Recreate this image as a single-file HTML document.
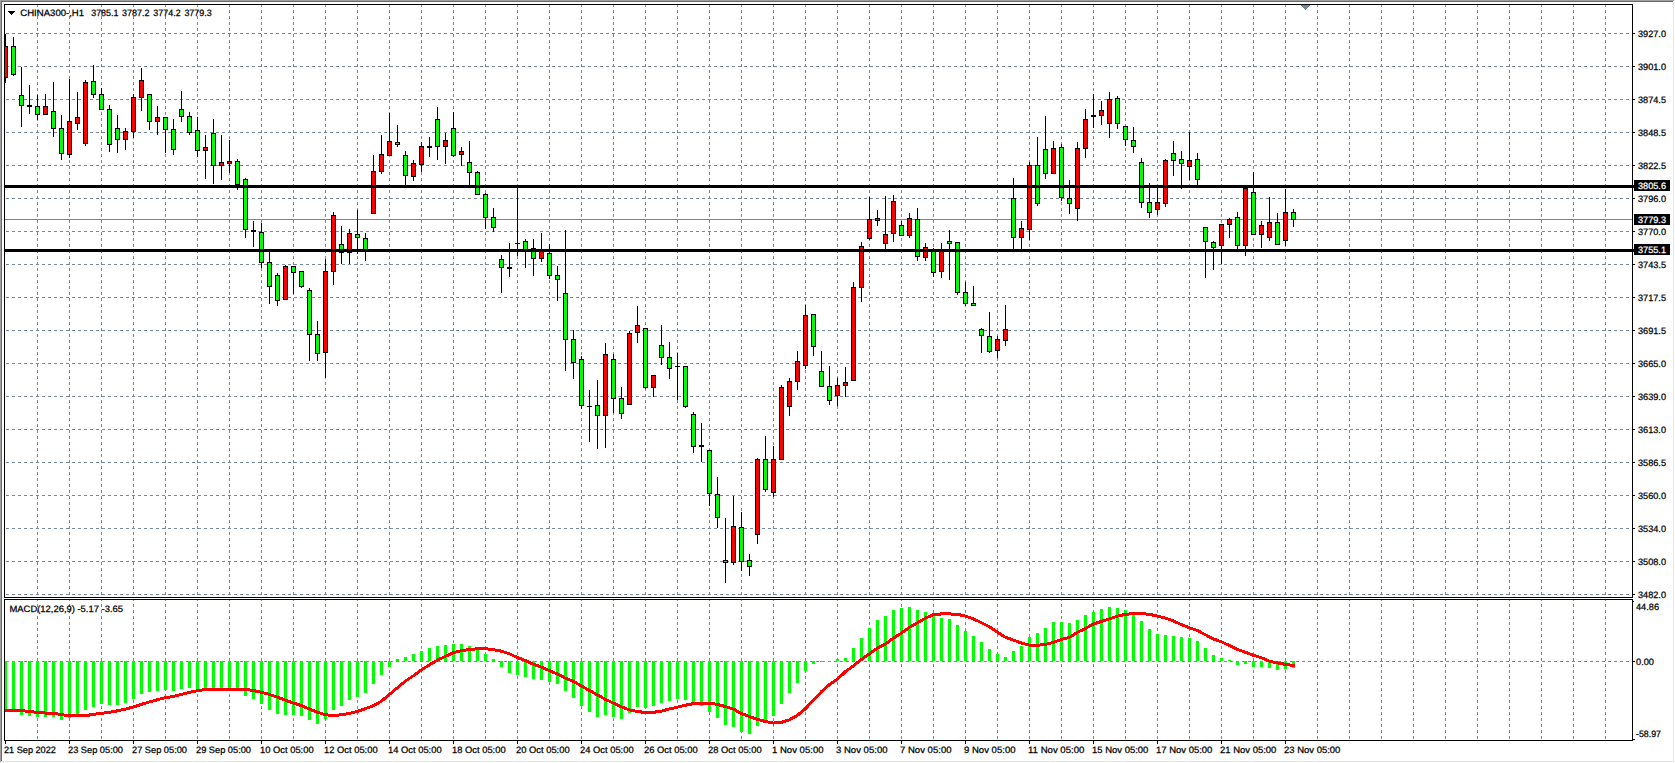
<!DOCTYPE html>
<html lang="en"><head><meta charset="utf-8"><title>CHINA300-,H1</title>
<style>html,body{margin:0;padding:0;background:#fff;overflow:hidden}svg{display:block}text{font-family:"Liberation Sans",sans-serif;font-size:9.2px;fill:#000;stroke:#000;stroke-width:0.25px}.w{fill:#fff;stroke:#fff}</style></head><body>
<svg width="1675" height="763" viewBox="0 0 1675 763" shape-rendering="crispEdges">
<rect x="0" y="0" width="1675" height="763" fill="#fff"/>
<rect x="0" y="0" width="1674" height="1" fill="#a0a0a0"/>
<rect x="0" y="1" width="1673" height="1" fill="#696969"/>
<rect x="0" y="0" width="1" height="762" fill="#a0a0a0"/>
<rect x="1" y="1" width="1" height="760" fill="#696969"/>
<rect x="1673" y="2" width="1" height="760" fill="#e3e3e3"/>
<rect x="2" y="761" width="1672" height="1" fill="#e3e3e3"/>
<g stroke="#778899" stroke-width="1" stroke-dasharray="3 3" fill="none">
<line x1="37.5" y1="4" x2="37.5" y2="740"/>
<line x1="69.5" y1="4" x2="69.5" y2="740"/>
<line x1="101.5" y1="4" x2="101.5" y2="740"/>
<line x1="133.5" y1="4" x2="133.5" y2="740"/>
<line x1="165.5" y1="4" x2="165.5" y2="740"/>
<line x1="197.5" y1="4" x2="197.5" y2="740"/>
<line x1="229.5" y1="4" x2="229.5" y2="740"/>
<line x1="261.5" y1="4" x2="261.5" y2="740"/>
<line x1="293.5" y1="4" x2="293.5" y2="740"/>
<line x1="325.5" y1="4" x2="325.5" y2="740"/>
<line x1="357.5" y1="4" x2="357.5" y2="740"/>
<line x1="389.5" y1="4" x2="389.5" y2="740"/>
<line x1="421.5" y1="4" x2="421.5" y2="740"/>
<line x1="453.5" y1="4" x2="453.5" y2="740"/>
<line x1="485.5" y1="4" x2="485.5" y2="740"/>
<line x1="517.5" y1="4" x2="517.5" y2="740"/>
<line x1="549.5" y1="4" x2="549.5" y2="740"/>
<line x1="581.5" y1="4" x2="581.5" y2="740"/>
<line x1="613.5" y1="4" x2="613.5" y2="740"/>
<line x1="645.5" y1="4" x2="645.5" y2="740"/>
<line x1="677.5" y1="4" x2="677.5" y2="740"/>
<line x1="709.5" y1="4" x2="709.5" y2="740"/>
<line x1="741.5" y1="4" x2="741.5" y2="740"/>
<line x1="773.5" y1="4" x2="773.5" y2="740"/>
<line x1="805.5" y1="4" x2="805.5" y2="740"/>
<line x1="837.5" y1="4" x2="837.5" y2="740"/>
<line x1="869.5" y1="4" x2="869.5" y2="740"/>
<line x1="901.5" y1="4" x2="901.5" y2="740"/>
<line x1="933.5" y1="4" x2="933.5" y2="740"/>
<line x1="965.5" y1="4" x2="965.5" y2="740"/>
<line x1="997.5" y1="4" x2="997.5" y2="740"/>
<line x1="1029.5" y1="4" x2="1029.5" y2="740"/>
<line x1="1061.5" y1="4" x2="1061.5" y2="740"/>
<line x1="1093.5" y1="4" x2="1093.5" y2="740"/>
<line x1="1125.5" y1="4" x2="1125.5" y2="740"/>
<line x1="1157.5" y1="4" x2="1157.5" y2="740"/>
<line x1="1189.5" y1="4" x2="1189.5" y2="740"/>
<line x1="1221.5" y1="4" x2="1221.5" y2="740"/>
<line x1="1253.5" y1="4" x2="1253.5" y2="740"/>
<line x1="1285.5" y1="4" x2="1285.5" y2="740"/>
<line x1="1317.5" y1="4" x2="1317.5" y2="740"/>
<line x1="1349.5" y1="4" x2="1349.5" y2="740"/>
<line x1="1381.5" y1="4" x2="1381.5" y2="740"/>
<line x1="1413.5" y1="4" x2="1413.5" y2="740"/>
<line x1="1445.5" y1="4" x2="1445.5" y2="740"/>
<line x1="1477.5" y1="4" x2="1477.5" y2="740"/>
<line x1="1509.5" y1="4" x2="1509.5" y2="740"/>
<line x1="1541.5" y1="4" x2="1541.5" y2="740"/>
<line x1="1573.5" y1="4" x2="1573.5" y2="740"/>
<line x1="1605.5" y1="4" x2="1605.5" y2="740"/>
<line x1="6" y1="33.5" x2="1632" y2="33.5"/>
<line x1="6" y1="66.5" x2="1632" y2="66.5"/>
<line x1="6" y1="99.5" x2="1632" y2="99.5"/>
<line x1="6" y1="132.5" x2="1632" y2="132.5"/>
<line x1="6" y1="165.5" x2="1632" y2="165.5"/>
<line x1="6" y1="198.5" x2="1632" y2="198.5"/>
<line x1="6" y1="231.5" x2="1632" y2="231.5"/>
<line x1="6" y1="264.5" x2="1632" y2="264.5"/>
<line x1="6" y1="297.5" x2="1632" y2="297.5"/>
<line x1="6" y1="330.5" x2="1632" y2="330.5"/>
<line x1="6" y1="363.5" x2="1632" y2="363.5"/>
<line x1="6" y1="396.5" x2="1632" y2="396.5"/>
<line x1="6" y1="429.5" x2="1632" y2="429.5"/>
<line x1="6" y1="462.5" x2="1632" y2="462.5"/>
<line x1="6" y1="495.5" x2="1632" y2="495.5"/>
<line x1="6" y1="528.5" x2="1632" y2="528.5"/>
<line x1="6" y1="561.5" x2="1632" y2="561.5"/>
<line x1="6" y1="594.5" x2="1632" y2="594.5"/>
<line x1="6" y1="661.5" x2="1632" y2="661.5"/>
</g>
<rect x="5" y="219" width="1627" height="1" fill="#778899"/>
<rect x="1301" y="5" width="9" height="1" fill="#778899"/>
<rect x="1302" y="6" width="7" height="1" fill="#778899"/>
<rect x="1303" y="7" width="5" height="1" fill="#778899"/>
<rect x="1304" y="8" width="3" height="1" fill="#778899"/>
<rect x="1305" y="9" width="1" height="1" fill="#778899"/>
<g>
<rect x="5" y="34" width="1" height="49" fill="#000"/>
<rect x="3" y="46" width="5" height="32" fill="#000"/>
<rect x="4" y="47" width="3" height="30" fill="#ff0000"/>
<rect x="13" y="37" width="1" height="39" fill="#000"/>
<rect x="11" y="46" width="5" height="29" fill="#000"/>
<rect x="12" y="47" width="3" height="27" fill="#00ff00"/>
<rect x="21" y="67" width="1" height="60" fill="#000"/>
<rect x="19" y="95" width="5" height="11" fill="#000"/>
<rect x="20" y="96" width="3" height="9" fill="#00ff00"/>
<rect x="29" y="85" width="1" height="29" fill="#000"/>
<rect x="27" y="105" width="5" height="2" fill="#000"/>
<rect x="37" y="95" width="1" height="25" fill="#000"/>
<rect x="35" y="106" width="5" height="9" fill="#000"/>
<rect x="36" y="107" width="3" height="7" fill="#00ff00"/>
<rect x="45" y="94" width="1" height="21" fill="#000"/>
<rect x="43" y="106" width="5" height="9" fill="#000"/>
<rect x="44" y="107" width="3" height="7" fill="#ff0000"/>
<rect x="53" y="82" width="1" height="55" fill="#000"/>
<rect x="51" y="111" width="5" height="18" fill="#000"/>
<rect x="52" y="112" width="3" height="16" fill="#00ff00"/>
<rect x="61" y="115" width="1" height="45" fill="#000"/>
<rect x="59" y="128" width="5" height="26" fill="#000"/>
<rect x="60" y="129" width="3" height="24" fill="#00ff00"/>
<rect x="69" y="79" width="1" height="79" fill="#000"/>
<rect x="67" y="121" width="5" height="34" fill="#000"/>
<rect x="68" y="122" width="3" height="32" fill="#ff0000"/>
<rect x="77" y="92" width="1" height="38" fill="#000"/>
<rect x="75" y="117" width="5" height="7" fill="#000"/>
<rect x="76" y="118" width="3" height="5" fill="#ff0000"/>
<rect x="85" y="80" width="1" height="66" fill="#000"/>
<rect x="83" y="82" width="5" height="62" fill="#000"/>
<rect x="84" y="83" width="3" height="60" fill="#ff0000"/>
<rect x="93" y="65" width="1" height="33" fill="#000"/>
<rect x="91" y="81" width="5" height="14" fill="#000"/>
<rect x="92" y="82" width="3" height="12" fill="#00ff00"/>
<rect x="101" y="88" width="1" height="22" fill="#000"/>
<rect x="99" y="94" width="5" height="16" fill="#000"/>
<rect x="100" y="95" width="3" height="14" fill="#00ff00"/>
<rect x="109" y="105" width="1" height="47" fill="#000"/>
<rect x="107" y="109" width="5" height="36" fill="#000"/>
<rect x="108" y="110" width="3" height="34" fill="#00ff00"/>
<rect x="117" y="115" width="1" height="38" fill="#000"/>
<rect x="115" y="128" width="5" height="12" fill="#000"/>
<rect x="116" y="129" width="3" height="10" fill="#00ff00"/>
<rect x="125" y="128" width="1" height="22" fill="#000"/>
<rect x="123" y="131" width="5" height="9" fill="#000"/>
<rect x="124" y="132" width="3" height="7" fill="#ff0000"/>
<rect x="133" y="94" width="1" height="44" fill="#000"/>
<rect x="131" y="97" width="5" height="35" fill="#000"/>
<rect x="132" y="98" width="3" height="33" fill="#ff0000"/>
<rect x="141" y="68" width="1" height="43" fill="#000"/>
<rect x="139" y="80" width="5" height="18" fill="#000"/>
<rect x="140" y="81" width="3" height="16" fill="#ff0000"/>
<rect x="149" y="94" width="1" height="36" fill="#000"/>
<rect x="147" y="94" width="5" height="28" fill="#000"/>
<rect x="148" y="95" width="3" height="26" fill="#00ff00"/>
<rect x="157" y="106" width="1" height="29" fill="#000"/>
<rect x="155" y="117" width="5" height="5" fill="#000"/>
<rect x="156" y="118" width="3" height="3" fill="#ff0000"/>
<rect x="165" y="117" width="1" height="36" fill="#000"/>
<rect x="163" y="117" width="5" height="13" fill="#000"/>
<rect x="164" y="118" width="3" height="11" fill="#00ff00"/>
<rect x="173" y="119" width="1" height="36" fill="#000"/>
<rect x="171" y="129" width="5" height="21" fill="#000"/>
<rect x="172" y="130" width="3" height="19" fill="#00ff00"/>
<rect x="181" y="91" width="1" height="31" fill="#000"/>
<rect x="179" y="109" width="5" height="8" fill="#000"/>
<rect x="180" y="110" width="3" height="6" fill="#00ff00"/>
<rect x="189" y="112" width="1" height="23" fill="#000"/>
<rect x="187" y="116" width="5" height="17" fill="#000"/>
<rect x="188" y="117" width="3" height="15" fill="#00ff00"/>
<rect x="197" y="117" width="1" height="40" fill="#000"/>
<rect x="195" y="130" width="5" height="21" fill="#000"/>
<rect x="196" y="131" width="3" height="19" fill="#00ff00"/>
<rect x="205" y="135" width="1" height="44" fill="#000"/>
<rect x="203" y="147" width="5" height="4" fill="#000"/>
<rect x="204" y="148" width="3" height="2" fill="#ff0000"/>
<rect x="213" y="119" width="1" height="65" fill="#000"/>
<rect x="211" y="133" width="5" height="33" fill="#000"/>
<rect x="212" y="134" width="3" height="31" fill="#00ff00"/>
<rect x="221" y="135" width="1" height="45" fill="#000"/>
<rect x="219" y="162" width="5" height="4" fill="#000"/>
<rect x="220" y="163" width="3" height="2" fill="#ff0000"/>
<rect x="229" y="140" width="1" height="33" fill="#000"/>
<rect x="227" y="161" width="5" height="3" fill="#000"/>
<rect x="228" y="162" width="3" height="1" fill="#ff0000"/>
<rect x="237" y="159" width="1" height="31" fill="#000"/>
<rect x="235" y="161" width="5" height="24" fill="#000"/>
<rect x="236" y="162" width="3" height="22" fill="#00ff00"/>
<rect x="245" y="178" width="1" height="60" fill="#000"/>
<rect x="243" y="179" width="5" height="51" fill="#000"/>
<rect x="244" y="180" width="3" height="49" fill="#00ff00"/>
<rect x="253" y="221" width="1" height="26" fill="#000"/>
<rect x="251" y="230" width="5" height="2" fill="#000"/>
<rect x="261" y="223" width="1" height="45" fill="#000"/>
<rect x="259" y="232" width="5" height="31" fill="#000"/>
<rect x="260" y="233" width="3" height="29" fill="#00ff00"/>
<rect x="269" y="252" width="1" height="52" fill="#000"/>
<rect x="267" y="262" width="5" height="25" fill="#000"/>
<rect x="268" y="263" width="3" height="23" fill="#00ff00"/>
<rect x="277" y="273" width="1" height="33" fill="#000"/>
<rect x="275" y="275" width="5" height="26" fill="#000"/>
<rect x="276" y="276" width="3" height="24" fill="#00ff00"/>
<rect x="285" y="265" width="1" height="35" fill="#000"/>
<rect x="283" y="266" width="5" height="34" fill="#000"/>
<rect x="284" y="267" width="3" height="32" fill="#ff0000"/>
<rect x="293" y="266" width="1" height="28" fill="#000"/>
<rect x="291" y="266" width="5" height="7" fill="#000"/>
<rect x="292" y="267" width="3" height="5" fill="#00ff00"/>
<rect x="301" y="271" width="1" height="17" fill="#000"/>
<rect x="299" y="271" width="5" height="16" fill="#000"/>
<rect x="300" y="272" width="3" height="14" fill="#00ff00"/>
<rect x="309" y="288" width="1" height="73" fill="#000"/>
<rect x="307" y="290" width="5" height="45" fill="#000"/>
<rect x="308" y="291" width="3" height="43" fill="#00ff00"/>
<rect x="317" y="321" width="1" height="40" fill="#000"/>
<rect x="315" y="334" width="5" height="20" fill="#000"/>
<rect x="316" y="335" width="3" height="18" fill="#00ff00"/>
<rect x="325" y="259" width="1" height="119" fill="#000"/>
<rect x="323" y="271" width="5" height="82" fill="#000"/>
<rect x="324" y="272" width="3" height="80" fill="#ff0000"/>
<rect x="333" y="212" width="1" height="73" fill="#000"/>
<rect x="331" y="215" width="5" height="57" fill="#000"/>
<rect x="332" y="216" width="3" height="55" fill="#ff0000"/>
<rect x="341" y="226" width="1" height="38" fill="#000"/>
<rect x="339" y="244" width="5" height="9" fill="#000"/>
<rect x="340" y="245" width="3" height="7" fill="#00ff00"/>
<rect x="349" y="229" width="1" height="35" fill="#000"/>
<rect x="347" y="233" width="5" height="20" fill="#000"/>
<rect x="348" y="234" width="3" height="18" fill="#ff0000"/>
<rect x="357" y="210" width="1" height="44" fill="#000"/>
<rect x="355" y="234" width="5" height="4" fill="#000"/>
<rect x="356" y="235" width="3" height="2" fill="#00ff00"/>
<rect x="365" y="233" width="1" height="28" fill="#000"/>
<rect x="363" y="238" width="5" height="13" fill="#000"/>
<rect x="364" y="239" width="3" height="11" fill="#00ff00"/>
<rect x="373" y="155" width="1" height="59" fill="#000"/>
<rect x="371" y="171" width="5" height="43" fill="#000"/>
<rect x="372" y="172" width="3" height="41" fill="#ff0000"/>
<rect x="381" y="135" width="1" height="39" fill="#000"/>
<rect x="379" y="154" width="5" height="18" fill="#000"/>
<rect x="380" y="155" width="3" height="16" fill="#ff0000"/>
<rect x="389" y="113" width="1" height="43" fill="#000"/>
<rect x="387" y="141" width="5" height="15" fill="#000"/>
<rect x="388" y="142" width="3" height="13" fill="#ff0000"/>
<rect x="397" y="125" width="1" height="22" fill="#000"/>
<rect x="395" y="142" width="5" height="3" fill="#000"/>
<rect x="396" y="143" width="3" height="1" fill="#00ff00"/>
<rect x="405" y="151" width="1" height="34" fill="#000"/>
<rect x="403" y="155" width="5" height="21" fill="#000"/>
<rect x="404" y="156" width="3" height="19" fill="#00ff00"/>
<rect x="413" y="160" width="1" height="21" fill="#000"/>
<rect x="411" y="163" width="5" height="14" fill="#000"/>
<rect x="412" y="164" width="3" height="12" fill="#ff0000"/>
<rect x="421" y="142" width="1" height="30" fill="#000"/>
<rect x="419" y="146" width="5" height="19" fill="#000"/>
<rect x="420" y="147" width="3" height="17" fill="#ff0000"/>
<rect x="429" y="137" width="1" height="20" fill="#000"/>
<rect x="427" y="146" width="5" height="2" fill="#000"/>
<rect x="437" y="107" width="1" height="53" fill="#000"/>
<rect x="435" y="119" width="5" height="28" fill="#000"/>
<rect x="436" y="120" width="3" height="26" fill="#00ff00"/>
<rect x="445" y="133" width="1" height="31" fill="#000"/>
<rect x="443" y="140" width="5" height="7" fill="#000"/>
<rect x="444" y="141" width="3" height="5" fill="#ff0000"/>
<rect x="453" y="112" width="1" height="45" fill="#000"/>
<rect x="451" y="128" width="5" height="28" fill="#000"/>
<rect x="452" y="129" width="3" height="26" fill="#00ff00"/>
<rect x="461" y="147" width="1" height="19" fill="#000"/>
<rect x="459" y="151" width="5" height="4" fill="#000"/>
<rect x="460" y="152" width="3" height="2" fill="#ff0000"/>
<rect x="469" y="141" width="1" height="44" fill="#000"/>
<rect x="467" y="162" width="5" height="11" fill="#000"/>
<rect x="468" y="163" width="3" height="9" fill="#00ff00"/>
<rect x="477" y="171" width="1" height="24" fill="#000"/>
<rect x="475" y="172" width="5" height="23" fill="#000"/>
<rect x="476" y="173" width="3" height="21" fill="#00ff00"/>
<rect x="485" y="193" width="1" height="36" fill="#000"/>
<rect x="483" y="194" width="5" height="24" fill="#000"/>
<rect x="484" y="195" width="3" height="22" fill="#00ff00"/>
<rect x="493" y="208" width="1" height="24" fill="#000"/>
<rect x="491" y="217" width="5" height="11" fill="#000"/>
<rect x="492" y="218" width="3" height="9" fill="#00ff00"/>
<rect x="501" y="255" width="1" height="38" fill="#000"/>
<rect x="499" y="259" width="5" height="9" fill="#000"/>
<rect x="500" y="260" width="3" height="7" fill="#00ff00"/>
<rect x="509" y="243" width="1" height="34" fill="#000"/>
<rect x="507" y="267" width="5" height="2" fill="#000"/>
<rect x="517" y="187" width="1" height="69" fill="#000"/>
<rect x="515" y="243" width="5" height="1" fill="#000"/>
<rect x="525" y="239" width="1" height="29" fill="#000"/>
<rect x="523" y="241" width="5" height="10" fill="#000"/>
<rect x="524" y="242" width="3" height="8" fill="#00ff00"/>
<rect x="533" y="239" width="1" height="37" fill="#000"/>
<rect x="531" y="248" width="5" height="11" fill="#000"/>
<rect x="532" y="249" width="3" height="9" fill="#00ff00"/>
<rect x="541" y="233" width="1" height="29" fill="#000"/>
<rect x="539" y="250" width="5" height="9" fill="#000"/>
<rect x="540" y="251" width="3" height="7" fill="#ff0000"/>
<rect x="549" y="244" width="1" height="35" fill="#000"/>
<rect x="547" y="253" width="5" height="23" fill="#000"/>
<rect x="548" y="254" width="3" height="21" fill="#00ff00"/>
<rect x="557" y="266" width="1" height="35" fill="#000"/>
<rect x="555" y="275" width="5" height="5" fill="#000"/>
<rect x="556" y="276" width="3" height="3" fill="#00ff00"/>
<rect x="565" y="230" width="1" height="141" fill="#000"/>
<rect x="563" y="293" width="5" height="47" fill="#000"/>
<rect x="564" y="294" width="3" height="45" fill="#00ff00"/>
<rect x="573" y="330" width="1" height="49" fill="#000"/>
<rect x="571" y="339" width="5" height="24" fill="#000"/>
<rect x="572" y="340" width="3" height="22" fill="#00ff00"/>
<rect x="581" y="356" width="1" height="53" fill="#000"/>
<rect x="579" y="359" width="5" height="47" fill="#000"/>
<rect x="580" y="360" width="3" height="45" fill="#00ff00"/>
<rect x="589" y="390" width="1" height="52" fill="#000"/>
<rect x="587" y="406" width="5" height="1" fill="#000"/>
<rect x="597" y="380" width="1" height="69" fill="#000"/>
<rect x="595" y="405" width="5" height="11" fill="#000"/>
<rect x="596" y="406" width="3" height="9" fill="#00ff00"/>
<rect x="605" y="343" width="1" height="105" fill="#000"/>
<rect x="603" y="354" width="5" height="62" fill="#000"/>
<rect x="604" y="355" width="3" height="60" fill="#ff0000"/>
<rect x="613" y="354" width="1" height="59" fill="#000"/>
<rect x="611" y="359" width="5" height="40" fill="#000"/>
<rect x="612" y="360" width="3" height="38" fill="#00ff00"/>
<rect x="621" y="387" width="1" height="32" fill="#000"/>
<rect x="619" y="398" width="5" height="16" fill="#000"/>
<rect x="620" y="399" width="3" height="14" fill="#00ff00"/>
<rect x="629" y="331" width="1" height="74" fill="#000"/>
<rect x="627" y="333" width="5" height="72" fill="#000"/>
<rect x="628" y="334" width="3" height="70" fill="#ff0000"/>
<rect x="637" y="306" width="1" height="37" fill="#000"/>
<rect x="635" y="325" width="5" height="8" fill="#000"/>
<rect x="636" y="326" width="3" height="6" fill="#ff0000"/>
<rect x="645" y="328" width="1" height="61" fill="#000"/>
<rect x="643" y="328" width="5" height="60" fill="#000"/>
<rect x="644" y="329" width="3" height="58" fill="#00ff00"/>
<rect x="653" y="375" width="1" height="22" fill="#000"/>
<rect x="651" y="375" width="5" height="13" fill="#000"/>
<rect x="652" y="376" width="3" height="11" fill="#ff0000"/>
<rect x="661" y="325" width="1" height="40" fill="#000"/>
<rect x="659" y="345" width="5" height="13" fill="#000"/>
<rect x="660" y="346" width="3" height="11" fill="#00ff00"/>
<rect x="669" y="342" width="1" height="37" fill="#000"/>
<rect x="667" y="357" width="5" height="12" fill="#000"/>
<rect x="668" y="358" width="3" height="10" fill="#00ff00"/>
<rect x="677" y="353" width="1" height="47" fill="#000"/>
<rect x="675" y="366" width="5" height="1" fill="#000"/>
<rect x="685" y="366" width="1" height="42" fill="#000"/>
<rect x="683" y="366" width="5" height="41" fill="#000"/>
<rect x="684" y="367" width="3" height="39" fill="#00ff00"/>
<rect x="693" y="412" width="1" height="41" fill="#000"/>
<rect x="691" y="414" width="5" height="33" fill="#000"/>
<rect x="692" y="415" width="3" height="31" fill="#00ff00"/>
<rect x="701" y="423" width="1" height="39" fill="#000"/>
<rect x="699" y="445" width="5" height="2" fill="#000"/>
<rect x="709" y="450" width="1" height="56" fill="#000"/>
<rect x="707" y="450" width="5" height="44" fill="#000"/>
<rect x="708" y="451" width="3" height="42" fill="#00ff00"/>
<rect x="717" y="477" width="1" height="51" fill="#000"/>
<rect x="715" y="494" width="5" height="24" fill="#000"/>
<rect x="716" y="495" width="3" height="22" fill="#00ff00"/>
<rect x="725" y="518" width="1" height="65" fill="#000"/>
<rect x="723" y="560" width="5" height="3" fill="#000"/>
<rect x="724" y="561" width="3" height="1" fill="#00ff00"/>
<rect x="733" y="496" width="1" height="69" fill="#000"/>
<rect x="731" y="526" width="5" height="37" fill="#000"/>
<rect x="732" y="527" width="3" height="35" fill="#ff0000"/>
<rect x="741" y="512" width="1" height="59" fill="#000"/>
<rect x="739" y="527" width="5" height="35" fill="#000"/>
<rect x="740" y="528" width="3" height="33" fill="#00ff00"/>
<rect x="749" y="554" width="1" height="22" fill="#000"/>
<rect x="747" y="560" width="5" height="7" fill="#000"/>
<rect x="748" y="561" width="3" height="5" fill="#00ff00"/>
<rect x="757" y="458" width="1" height="86" fill="#000"/>
<rect x="755" y="459" width="5" height="76" fill="#000"/>
<rect x="756" y="460" width="3" height="74" fill="#ff0000"/>
<rect x="765" y="436" width="1" height="56" fill="#000"/>
<rect x="763" y="459" width="5" height="31" fill="#000"/>
<rect x="764" y="460" width="3" height="29" fill="#00ff00"/>
<rect x="773" y="446" width="1" height="51" fill="#000"/>
<rect x="771" y="459" width="5" height="34" fill="#000"/>
<rect x="772" y="460" width="3" height="32" fill="#ff0000"/>
<rect x="781" y="385" width="1" height="75" fill="#000"/>
<rect x="779" y="387" width="5" height="73" fill="#000"/>
<rect x="780" y="388" width="3" height="71" fill="#ff0000"/>
<rect x="789" y="378" width="1" height="38" fill="#000"/>
<rect x="787" y="381" width="5" height="26" fill="#000"/>
<rect x="788" y="382" width="3" height="24" fill="#ff0000"/>
<rect x="797" y="351" width="1" height="39" fill="#000"/>
<rect x="795" y="361" width="5" height="21" fill="#000"/>
<rect x="796" y="362" width="3" height="19" fill="#ff0000"/>
<rect x="805" y="305" width="1" height="64" fill="#000"/>
<rect x="803" y="315" width="5" height="51" fill="#000"/>
<rect x="804" y="316" width="3" height="49" fill="#ff0000"/>
<rect x="813" y="314" width="1" height="42" fill="#000"/>
<rect x="811" y="314" width="5" height="33" fill="#000"/>
<rect x="812" y="315" width="3" height="31" fill="#00ff00"/>
<rect x="821" y="351" width="1" height="36" fill="#000"/>
<rect x="819" y="371" width="5" height="16" fill="#000"/>
<rect x="820" y="372" width="3" height="14" fill="#00ff00"/>
<rect x="829" y="366" width="1" height="39" fill="#000"/>
<rect x="827" y="386" width="5" height="15" fill="#000"/>
<rect x="828" y="387" width="3" height="13" fill="#00ff00"/>
<rect x="837" y="378" width="1" height="28" fill="#000"/>
<rect x="835" y="385" width="5" height="11" fill="#000"/>
<rect x="836" y="386" width="3" height="9" fill="#ff0000"/>
<rect x="845" y="367" width="1" height="30" fill="#000"/>
<rect x="843" y="382" width="5" height="4" fill="#000"/>
<rect x="844" y="383" width="3" height="2" fill="#ff0000"/>
<rect x="853" y="282" width="1" height="99" fill="#000"/>
<rect x="851" y="287" width="5" height="94" fill="#000"/>
<rect x="852" y="288" width="3" height="92" fill="#ff0000"/>
<rect x="861" y="242" width="1" height="60" fill="#000"/>
<rect x="859" y="246" width="5" height="42" fill="#000"/>
<rect x="860" y="247" width="3" height="40" fill="#ff0000"/>
<rect x="869" y="197" width="1" height="43" fill="#000"/>
<rect x="867" y="219" width="5" height="20" fill="#000"/>
<rect x="868" y="220" width="3" height="18" fill="#ff0000"/>
<rect x="877" y="210" width="1" height="16" fill="#000"/>
<rect x="875" y="218" width="5" height="3" fill="#000"/>
<rect x="876" y="219" width="3" height="1" fill="#ff0000"/>
<rect x="885" y="196" width="1" height="54" fill="#000"/>
<rect x="883" y="234" width="5" height="10" fill="#000"/>
<rect x="884" y="235" width="3" height="8" fill="#ff0000"/>
<rect x="893" y="195" width="1" height="47" fill="#000"/>
<rect x="891" y="201" width="5" height="33" fill="#000"/>
<rect x="892" y="202" width="3" height="31" fill="#ff0000"/>
<rect x="901" y="221" width="1" height="15" fill="#000"/>
<rect x="899" y="225" width="5" height="11" fill="#000"/>
<rect x="900" y="226" width="3" height="9" fill="#00ff00"/>
<rect x="909" y="213" width="1" height="25" fill="#000"/>
<rect x="907" y="218" width="5" height="18" fill="#000"/>
<rect x="908" y="219" width="3" height="16" fill="#ff0000"/>
<rect x="917" y="208" width="1" height="53" fill="#000"/>
<rect x="915" y="219" width="5" height="38" fill="#000"/>
<rect x="916" y="220" width="3" height="36" fill="#00ff00"/>
<rect x="925" y="243" width="1" height="18" fill="#000"/>
<rect x="923" y="247" width="5" height="11" fill="#000"/>
<rect x="924" y="248" width="3" height="9" fill="#ff0000"/>
<rect x="933" y="248" width="1" height="29" fill="#000"/>
<rect x="931" y="250" width="5" height="23" fill="#000"/>
<rect x="932" y="251" width="3" height="21" fill="#00ff00"/>
<rect x="941" y="243" width="1" height="35" fill="#000"/>
<rect x="939" y="250" width="5" height="22" fill="#000"/>
<rect x="940" y="251" width="3" height="20" fill="#ff0000"/>
<rect x="949" y="230" width="1" height="50" fill="#000"/>
<rect x="947" y="241" width="5" height="3" fill="#000"/>
<rect x="948" y="242" width="3" height="1" fill="#00ff00"/>
<rect x="957" y="242" width="1" height="53" fill="#000"/>
<rect x="955" y="242" width="5" height="51" fill="#000"/>
<rect x="956" y="243" width="3" height="49" fill="#00ff00"/>
<rect x="965" y="282" width="1" height="24" fill="#000"/>
<rect x="963" y="292" width="5" height="12" fill="#000"/>
<rect x="964" y="293" width="3" height="10" fill="#00ff00"/>
<rect x="973" y="286" width="1" height="20" fill="#000"/>
<rect x="971" y="303" width="5" height="3" fill="#000"/>
<rect x="972" y="304" width="3" height="1" fill="#00ff00"/>
<rect x="981" y="328" width="1" height="25" fill="#000"/>
<rect x="979" y="329" width="5" height="7" fill="#000"/>
<rect x="980" y="330" width="3" height="5" fill="#00ff00"/>
<rect x="989" y="312" width="1" height="41" fill="#000"/>
<rect x="987" y="336" width="5" height="16" fill="#000"/>
<rect x="988" y="337" width="3" height="14" fill="#00ff00"/>
<rect x="997" y="336" width="1" height="22" fill="#000"/>
<rect x="995" y="339" width="5" height="12" fill="#000"/>
<rect x="996" y="340" width="3" height="10" fill="#ff0000"/>
<rect x="1005" y="305" width="1" height="41" fill="#000"/>
<rect x="1003" y="329" width="5" height="12" fill="#000"/>
<rect x="1004" y="330" width="3" height="10" fill="#ff0000"/>
<rect x="1013" y="178" width="1" height="72" fill="#000"/>
<rect x="1011" y="198" width="5" height="40" fill="#000"/>
<rect x="1012" y="199" width="3" height="38" fill="#00ff00"/>
<rect x="1021" y="221" width="1" height="29" fill="#000"/>
<rect x="1019" y="228" width="5" height="10" fill="#000"/>
<rect x="1020" y="229" width="3" height="8" fill="#ff0000"/>
<rect x="1029" y="162" width="1" height="78" fill="#000"/>
<rect x="1027" y="165" width="5" height="65" fill="#000"/>
<rect x="1028" y="166" width="3" height="63" fill="#ff0000"/>
<rect x="1037" y="137" width="1" height="69" fill="#000"/>
<rect x="1035" y="165" width="5" height="39" fill="#000"/>
<rect x="1036" y="166" width="3" height="37" fill="#00ff00"/>
<rect x="1045" y="116" width="1" height="63" fill="#000"/>
<rect x="1043" y="149" width="5" height="25" fill="#000"/>
<rect x="1044" y="150" width="3" height="23" fill="#00ff00"/>
<rect x="1053" y="141" width="1" height="33" fill="#000"/>
<rect x="1051" y="148" width="5" height="26" fill="#000"/>
<rect x="1052" y="149" width="3" height="24" fill="#ff0000"/>
<rect x="1061" y="144" width="1" height="57" fill="#000"/>
<rect x="1059" y="147" width="5" height="51" fill="#000"/>
<rect x="1060" y="148" width="3" height="49" fill="#00ff00"/>
<rect x="1069" y="180" width="1" height="34" fill="#000"/>
<rect x="1067" y="198" width="5" height="6" fill="#000"/>
<rect x="1068" y="199" width="3" height="4" fill="#00ff00"/>
<rect x="1077" y="142" width="1" height="79" fill="#000"/>
<rect x="1075" y="148" width="5" height="61" fill="#000"/>
<rect x="1076" y="149" width="3" height="59" fill="#ff0000"/>
<rect x="1085" y="109" width="1" height="49" fill="#000"/>
<rect x="1083" y="119" width="5" height="30" fill="#000"/>
<rect x="1084" y="120" width="3" height="28" fill="#ff0000"/>
<rect x="1093" y="94" width="1" height="34" fill="#000"/>
<rect x="1091" y="115" width="5" height="2" fill="#000"/>
<rect x="1101" y="101" width="1" height="24" fill="#000"/>
<rect x="1099" y="110" width="5" height="6" fill="#000"/>
<rect x="1100" y="111" width="3" height="4" fill="#ff0000"/>
<rect x="1109" y="92" width="1" height="46" fill="#000"/>
<rect x="1107" y="99" width="5" height="25" fill="#000"/>
<rect x="1108" y="100" width="3" height="23" fill="#ff0000"/>
<rect x="1117" y="96" width="1" height="33" fill="#000"/>
<rect x="1115" y="98" width="5" height="26" fill="#000"/>
<rect x="1116" y="99" width="3" height="24" fill="#00ff00"/>
<rect x="1125" y="126" width="1" height="20" fill="#000"/>
<rect x="1123" y="126" width="5" height="14" fill="#000"/>
<rect x="1124" y="127" width="3" height="12" fill="#00ff00"/>
<rect x="1133" y="127" width="1" height="26" fill="#000"/>
<rect x="1131" y="140" width="5" height="7" fill="#000"/>
<rect x="1132" y="141" width="3" height="5" fill="#00ff00"/>
<rect x="1141" y="158" width="1" height="50" fill="#000"/>
<rect x="1139" y="162" width="5" height="41" fill="#000"/>
<rect x="1140" y="163" width="3" height="39" fill="#00ff00"/>
<rect x="1149" y="183" width="1" height="35" fill="#000"/>
<rect x="1147" y="202" width="5" height="11" fill="#000"/>
<rect x="1148" y="203" width="3" height="9" fill="#00ff00"/>
<rect x="1157" y="186" width="1" height="29" fill="#000"/>
<rect x="1155" y="202" width="5" height="8" fill="#000"/>
<rect x="1156" y="203" width="3" height="6" fill="#ff0000"/>
<rect x="1165" y="159" width="1" height="48" fill="#000"/>
<rect x="1163" y="160" width="5" height="44" fill="#000"/>
<rect x="1164" y="161" width="3" height="42" fill="#ff0000"/>
<rect x="1173" y="141" width="1" height="35" fill="#000"/>
<rect x="1171" y="153" width="5" height="8" fill="#000"/>
<rect x="1172" y="154" width="3" height="6" fill="#00ff00"/>
<rect x="1181" y="151" width="1" height="38" fill="#000"/>
<rect x="1179" y="159" width="5" height="5" fill="#000"/>
<rect x="1180" y="160" width="3" height="3" fill="#00ff00"/>
<rect x="1189" y="132" width="1" height="48" fill="#000"/>
<rect x="1187" y="160" width="5" height="7" fill="#000"/>
<rect x="1188" y="161" width="3" height="5" fill="#ff0000"/>
<rect x="1197" y="153" width="1" height="32" fill="#000"/>
<rect x="1195" y="159" width="5" height="21" fill="#000"/>
<rect x="1196" y="160" width="3" height="19" fill="#00ff00"/>
<rect x="1205" y="227" width="1" height="51" fill="#000"/>
<rect x="1203" y="227" width="5" height="15" fill="#000"/>
<rect x="1204" y="228" width="3" height="13" fill="#00ff00"/>
<rect x="1213" y="241" width="1" height="29" fill="#000"/>
<rect x="1211" y="242" width="5" height="6" fill="#000"/>
<rect x="1212" y="243" width="3" height="4" fill="#00ff00"/>
<rect x="1221" y="224" width="1" height="40" fill="#000"/>
<rect x="1219" y="224" width="5" height="22" fill="#000"/>
<rect x="1220" y="225" width="3" height="20" fill="#ff0000"/>
<rect x="1229" y="218" width="1" height="20" fill="#000"/>
<rect x="1227" y="219" width="5" height="6" fill="#000"/>
<rect x="1228" y="220" width="3" height="4" fill="#ff0000"/>
<rect x="1237" y="212" width="1" height="38" fill="#000"/>
<rect x="1235" y="217" width="5" height="29" fill="#000"/>
<rect x="1236" y="218" width="3" height="27" fill="#00ff00"/>
<rect x="1245" y="186" width="1" height="70" fill="#000"/>
<rect x="1243" y="188" width="5" height="58" fill="#000"/>
<rect x="1244" y="189" width="3" height="56" fill="#ff0000"/>
<rect x="1253" y="172" width="1" height="63" fill="#000"/>
<rect x="1251" y="192" width="5" height="43" fill="#000"/>
<rect x="1252" y="193" width="3" height="41" fill="#00ff00"/>
<rect x="1261" y="221" width="1" height="27" fill="#000"/>
<rect x="1259" y="225" width="5" height="10" fill="#000"/>
<rect x="1260" y="226" width="3" height="8" fill="#ff0000"/>
<rect x="1269" y="197" width="1" height="44" fill="#000"/>
<rect x="1267" y="222" width="5" height="16" fill="#000"/>
<rect x="1268" y="223" width="3" height="14" fill="#ff0000"/>
<rect x="1277" y="213" width="1" height="32" fill="#000"/>
<rect x="1275" y="222" width="5" height="23" fill="#000"/>
<rect x="1276" y="223" width="3" height="21" fill="#00ff00"/>
<rect x="1285" y="189" width="1" height="57" fill="#000"/>
<rect x="1283" y="212" width="5" height="29" fill="#000"/>
<rect x="1284" y="213" width="3" height="27" fill="#ff0000"/>
<rect x="1293" y="209" width="1" height="18" fill="#000"/>
<rect x="1291" y="212" width="5" height="8" fill="#000"/>
<rect x="1292" y="213" width="3" height="6" fill="#00ff00"/>
</g>
<rect x="5" y="185" width="1630" height="3" fill="#000"/>
<rect x="5" y="249" width="1630" height="3" fill="#000"/>
<g fill="#00ff00">
<rect x="4" y="661" width="3" height="50"/>
<rect x="12" y="661" width="3" height="50"/>
<rect x="20" y="661" width="3" height="54"/>
<rect x="28" y="661" width="3" height="55"/>
<rect x="36" y="661" width="3" height="56"/>
<rect x="44" y="661" width="3" height="56"/>
<rect x="52" y="661" width="3" height="56"/>
<rect x="60" y="661" width="3" height="59"/>
<rect x="68" y="661" width="3" height="57"/>
<rect x="76" y="661" width="3" height="53"/>
<rect x="84" y="661" width="3" height="49"/>
<rect x="92" y="661" width="3" height="46"/>
<rect x="100" y="661" width="3" height="43"/>
<rect x="108" y="661" width="3" height="44"/>
<rect x="116" y="661" width="3" height="44"/>
<rect x="124" y="661" width="3" height="42"/>
<rect x="132" y="661" width="3" height="38"/>
<rect x="140" y="661" width="3" height="33"/>
<rect x="148" y="661" width="3" height="31"/>
<rect x="156" y="661" width="3" height="30"/>
<rect x="164" y="661" width="3" height="29"/>
<rect x="172" y="661" width="3" height="30"/>
<rect x="180" y="661" width="3" height="28"/>
<rect x="188" y="661" width="3" height="27"/>
<rect x="196" y="661" width="3" height="28"/>
<rect x="204" y="661" width="3" height="28"/>
<rect x="212" y="661" width="3" height="30"/>
<rect x="220" y="661" width="3" height="30"/>
<rect x="228" y="661" width="3" height="30"/>
<rect x="236" y="661" width="3" height="30"/>
<rect x="244" y="661" width="3" height="35"/>
<rect x="252" y="661" width="3" height="38"/>
<rect x="260" y="661" width="3" height="43"/>
<rect x="268" y="661" width="3" height="49"/>
<rect x="276" y="661" width="3" height="53"/>
<rect x="284" y="661" width="3" height="54"/>
<rect x="292" y="661" width="3" height="54"/>
<rect x="300" y="661" width="3" height="55"/>
<rect x="308" y="661" width="3" height="59"/>
<rect x="316" y="661" width="3" height="63"/>
<rect x="324" y="661" width="3" height="58"/>
<rect x="332" y="661" width="3" height="49"/>
<rect x="340" y="661" width="3" height="45"/>
<rect x="348" y="661" width="3" height="39"/>
<rect x="356" y="661" width="3" height="36"/>
<rect x="364" y="661" width="3" height="32"/>
<rect x="372" y="661" width="3" height="23"/>
<rect x="380" y="661" width="3" height="14"/>
<rect x="388" y="661" width="3" height="6"/>
<rect x="396" y="659" width="3" height="2"/>
<rect x="404" y="657" width="3" height="4"/>
<rect x="412" y="654" width="3" height="7"/>
<rect x="420" y="651" width="3" height="10"/>
<rect x="428" y="648" width="3" height="13"/>
<rect x="436" y="646" width="3" height="15"/>
<rect x="444" y="645" width="3" height="16"/>
<rect x="452" y="644" width="3" height="17"/>
<rect x="460" y="644" width="3" height="17"/>
<rect x="468" y="646" width="3" height="15"/>
<rect x="476" y="649" width="3" height="12"/>
<rect x="484" y="654" width="3" height="7"/>
<rect x="492" y="659" width="3" height="2"/>
<rect x="500" y="661" width="3" height="6"/>
<rect x="508" y="661" width="3" height="12"/>
<rect x="516" y="661" width="3" height="14"/>
<rect x="524" y="661" width="3" height="16"/>
<rect x="532" y="661" width="3" height="18"/>
<rect x="540" y="661" width="3" height="19"/>
<rect x="548" y="661" width="3" height="21"/>
<rect x="556" y="661" width="3" height="23"/>
<rect x="564" y="661" width="3" height="30"/>
<rect x="572" y="661" width="3" height="37"/>
<rect x="580" y="661" width="3" height="45"/>
<rect x="588" y="661" width="3" height="51"/>
<rect x="596" y="661" width="3" height="56"/>
<rect x="604" y="661" width="3" height="54"/>
<rect x="612" y="661" width="3" height="56"/>
<rect x="620" y="661" width="3" height="58"/>
<rect x="628" y="661" width="3" height="52"/>
<rect x="636" y="661" width="3" height="46"/>
<rect x="644" y="661" width="3" height="47"/>
<rect x="652" y="661" width="3" height="45"/>
<rect x="660" y="661" width="3" height="42"/>
<rect x="668" y="661" width="3" height="40"/>
<rect x="676" y="661" width="3" height="38"/>
<rect x="684" y="661" width="3" height="39"/>
<rect x="692" y="661" width="3" height="42"/>
<rect x="700" y="661" width="3" height="45"/>
<rect x="708" y="661" width="3" height="51"/>
<rect x="716" y="661" width="3" height="57"/>
<rect x="724" y="661" width="3" height="64"/>
<rect x="732" y="661" width="3" height="66"/>
<rect x="740" y="661" width="3" height="71"/>
<rect x="748" y="661" width="3" height="73"/>
<rect x="756" y="661" width="3" height="65"/>
<rect x="764" y="661" width="3" height="62"/>
<rect x="772" y="661" width="3" height="55"/>
<rect x="780" y="661" width="3" height="43"/>
<rect x="788" y="661" width="3" height="32"/>
<rect x="796" y="661" width="3" height="22"/>
<rect x="804" y="661" width="3" height="10"/>
<rect x="812" y="661" width="3" height="3"/>
<rect x="820" y="661" width="3" height="1"/>
<rect x="828" y="661" width="3" height="1"/>
<rect x="836" y="659" width="3" height="2"/>
<rect x="844" y="658" width="3" height="3"/>
<rect x="852" y="648" width="3" height="13"/>
<rect x="860" y="638" width="3" height="23"/>
<rect x="868" y="628" width="3" height="33"/>
<rect x="876" y="620" width="3" height="41"/>
<rect x="884" y="616" width="3" height="45"/>
<rect x="892" y="610" width="3" height="51"/>
<rect x="900" y="608" width="3" height="53"/>
<rect x="908" y="607" width="3" height="54"/>
<rect x="916" y="610" width="3" height="51"/>
<rect x="924" y="612" width="3" height="49"/>
<rect x="932" y="614" width="3" height="47"/>
<rect x="940" y="618" width="3" height="43"/>
<rect x="948" y="619" width="3" height="42"/>
<rect x="956" y="625" width="3" height="36"/>
<rect x="964" y="631" width="3" height="30"/>
<rect x="972" y="636" width="3" height="25"/>
<rect x="980" y="642" width="3" height="19"/>
<rect x="988" y="649" width="3" height="12"/>
<rect x="996" y="654" width="3" height="7"/>
<rect x="1004" y="657" width="3" height="4"/>
<rect x="1012" y="651" width="3" height="10"/>
<rect x="1020" y="646" width="3" height="15"/>
<rect x="1028" y="637" width="3" height="24"/>
<rect x="1036" y="633" width="3" height="28"/>
<rect x="1044" y="628" width="3" height="33"/>
<rect x="1052" y="622" width="3" height="39"/>
<rect x="1060" y="622" width="3" height="39"/>
<rect x="1068" y="623" width="3" height="38"/>
<rect x="1076" y="620" width="3" height="41"/>
<rect x="1084" y="615" width="3" height="46"/>
<rect x="1092" y="612" width="3" height="49"/>
<rect x="1100" y="609" width="3" height="52"/>
<rect x="1108" y="607" width="3" height="54"/>
<rect x="1116" y="608" width="3" height="53"/>
<rect x="1124" y="610" width="3" height="51"/>
<rect x="1132" y="614" width="3" height="47"/>
<rect x="1140" y="621" width="3" height="40"/>
<rect x="1148" y="629" width="3" height="32"/>
<rect x="1156" y="634" width="3" height="27"/>
<rect x="1164" y="635" width="3" height="26"/>
<rect x="1172" y="636" width="3" height="25"/>
<rect x="1180" y="637" width="3" height="24"/>
<rect x="1188" y="638" width="3" height="23"/>
<rect x="1196" y="641" width="3" height="20"/>
<rect x="1204" y="648" width="3" height="13"/>
<rect x="1212" y="655" width="3" height="6"/>
<rect x="1220" y="658" width="3" height="3"/>
<rect x="1228" y="660" width="3" height="1"/>
<rect x="1236" y="661" width="3" height="4"/>
<rect x="1244" y="661" width="3" height="3"/>
<rect x="1252" y="661" width="3" height="6"/>
<rect x="1260" y="661" width="3" height="6"/>
<rect x="1268" y="661" width="3" height="7"/>
<rect x="1276" y="661" width="3" height="9"/>
<rect x="1284" y="661" width="3" height="8"/>
<rect x="1292" y="661" width="3" height="7"/>
</g>
<polyline points="5.5,710.6 13.5,710.6 21.5,710.6 29.5,711.6 37.5,712.3 45.5,713.1 53.5,713.1 61.5,714.8 69.5,715.6 77.5,715.6 85.5,715.6 93.5,714.4 101.5,713.3 109.5,712.3 117.5,710.8 125.5,709.1 133.5,706.9 141.5,704.4 149.5,701.9 157.5,699.7 165.5,697.7 173.5,696.4 181.5,694.4 189.5,692.4 197.5,690.7 205.5,689.4 213.5,689.4 221.5,689.4 229.5,689.4 237.5,689.4 245.5,689.4 253.5,690.5 261.5,692.4 269.5,694.4 277.5,697.2 285.5,700.2 293.5,703.1 301.5,705.7 309.5,709.1 317.5,712.3 325.5,714.8 333.5,715.6 341.5,714.8 349.5,713.3 357.5,711.4 365.5,708.6 373.5,705.7 381.5,701.1 389.5,694.4 397.5,687.7 405.5,681 413.5,675.7 421.5,669.8 429.5,664.8 437.5,660.1 445.5,656.3 453.5,652.6 461.5,650.6 469.5,649.6 477.5,648.7 485.5,648.7 493.5,649.7 501.5,651.2 509.5,653.8 517.5,657.6 525.5,660.6 533.5,664.3 541.5,667.1 549.5,670.7 557.5,674 565.5,678.2 573.5,681.5 581.5,686 589.5,690.5 597.5,694.9 605.5,699.4 613.5,703.2 621.5,706.9 629.5,709.9 637.5,711.6 645.5,712.4 653.5,712.3 661.5,711.1 669.5,708.9 677.5,707.2 685.5,705.2 693.5,703.6 701.5,703.2 709.5,703.2 717.5,704.4 725.5,706.6 733.5,709.1 741.5,713.6 749.5,716.6 757.5,719.4 765.5,721.5 773.5,723.1 781.5,722.3 789.5,719.8 797.5,715.3 805.5,708.6 813.5,700 821.5,691.6 829.5,684.6 837.5,679.1 845.5,671.6 853.5,665.7 861.5,659.5 869.5,653.7 877.5,648.2 885.5,644 893.5,638.1 901.5,633.1 909.5,627.3 917.5,622.7 925.5,618.1 933.5,614.7 941.5,613.9 949.5,613.9 957.5,614.4 965.5,616.1 973.5,618.9 981.5,622.7 989.5,626.8 997.5,632.3 1005.5,637.3 1013.5,640.1 1021.5,643.1 1029.5,645.1 1037.5,645.3 1045.5,644.3 1053.5,642.3 1061.5,639.5 1069.5,637.3 1077.5,632.3 1085.5,628.4 1093.5,623.9 1101.5,621.4 1109.5,618.9 1117.5,616.1 1125.5,614.4 1133.5,613.5 1141.5,613.5 1149.5,614.4 1157.5,616.1 1165.5,618.1 1173.5,620.9 1181.5,624.7 1189.5,627.8 1197.5,630.6 1205.5,634.8 1213.5,639 1221.5,641.8 1229.5,645.6 1237.5,649.5 1245.5,652.3 1253.5,655.3 1261.5,657.8 1269.5,661.2 1277.5,662.9 1285.5,664.4 1293.5,665.4" fill="none" stroke="#ff0000" stroke-width="3" stroke-linejoin="round" stroke-linecap="round"/>
<rect x="2" y="2" width="2" height="758" fill="#fff"/>
<rect x="4" y="598" width="1629" height="1" fill="#fff"/>
<g fill="#000">
<rect x="4" y="4" width="1629" height="1"/>
<rect x="4" y="597" width="1629" height="1"/>
<rect x="4" y="599" width="1629" height="1"/>
<rect x="4" y="740" width="1629" height="1"/>
<rect x="4" y="4" width="1" height="594"/>
<rect x="4" y="599" width="1" height="142"/>
<rect x="1632" y="4" width="1" height="594"/>
<rect x="1632" y="599" width="1" height="142"/>
<rect x="1633" y="33" width="2" height="1"/>
<rect x="1633" y="66" width="2" height="1"/>
<rect x="1633" y="99" width="2" height="1"/>
<rect x="1633" y="132" width="2" height="1"/>
<rect x="1633" y="165" width="2" height="1"/>
<rect x="1633" y="198" width="2" height="1"/>
<rect x="1633" y="231" width="2" height="1"/>
<rect x="1633" y="264" width="2" height="1"/>
<rect x="1633" y="297" width="2" height="1"/>
<rect x="1633" y="330" width="2" height="1"/>
<rect x="1633" y="363" width="2" height="1"/>
<rect x="1633" y="396" width="2" height="1"/>
<rect x="1633" y="429" width="2" height="1"/>
<rect x="1633" y="462" width="2" height="1"/>
<rect x="1633" y="495" width="2" height="1"/>
<rect x="1633" y="528" width="2" height="1"/>
<rect x="1633" y="561" width="2" height="1"/>
<rect x="1633" y="594" width="2" height="1"/>
<rect x="1633" y="601" width="1" height="1"/>
<rect x="1633" y="661" width="2" height="1"/>
<rect x="1633" y="739" width="2" height="1"/>
<rect x="5" y="741" width="1" height="3"/>
<rect x="69" y="741" width="1" height="3"/>
<rect x="133" y="741" width="1" height="3"/>
<rect x="197" y="741" width="1" height="3"/>
<rect x="261" y="741" width="1" height="3"/>
<rect x="325" y="741" width="1" height="3"/>
<rect x="389" y="741" width="1" height="3"/>
<rect x="453" y="741" width="1" height="3"/>
<rect x="517" y="741" width="1" height="3"/>
<rect x="581" y="741" width="1" height="3"/>
<rect x="645" y="741" width="1" height="3"/>
<rect x="709" y="741" width="1" height="3"/>
<rect x="773" y="741" width="1" height="3"/>
<rect x="837" y="741" width="1" height="3"/>
<rect x="901" y="741" width="1" height="3"/>
<rect x="965" y="741" width="1" height="3"/>
<rect x="1029" y="741" width="1" height="3"/>
<rect x="1093" y="741" width="1" height="3"/>
<rect x="1157" y="741" width="1" height="3"/>
<rect x="1221" y="741" width="1" height="3"/>
<rect x="1285" y="741" width="1" height="3"/>
</g>
<g shape-rendering="auto" text-rendering="geometricPrecision">
<text x="1638" y="37" textLength="28" lengthAdjust="spacingAndGlyphs">3927.0</text>
<text x="1638" y="70" textLength="28" lengthAdjust="spacingAndGlyphs">3901.0</text>
<text x="1638" y="103" textLength="28" lengthAdjust="spacingAndGlyphs">3874.5</text>
<text x="1638" y="136" textLength="28" lengthAdjust="spacingAndGlyphs">3848.5</text>
<text x="1638" y="169" textLength="28" lengthAdjust="spacingAndGlyphs">3822.5</text>
<text x="1638" y="202" textLength="28" lengthAdjust="spacingAndGlyphs">3796.0</text>
<text x="1638" y="235" textLength="28" lengthAdjust="spacingAndGlyphs">3770.0</text>
<text x="1638" y="268" textLength="28" lengthAdjust="spacingAndGlyphs">3743.5</text>
<text x="1638" y="301" textLength="28" lengthAdjust="spacingAndGlyphs">3717.5</text>
<text x="1638" y="334" textLength="28" lengthAdjust="spacingAndGlyphs">3691.5</text>
<text x="1638" y="367" textLength="28" lengthAdjust="spacingAndGlyphs">3665.0</text>
<text x="1638" y="400" textLength="28" lengthAdjust="spacingAndGlyphs">3639.0</text>
<text x="1638" y="433" textLength="28" lengthAdjust="spacingAndGlyphs">3613.0</text>
<text x="1638" y="466" textLength="28" lengthAdjust="spacingAndGlyphs">3586.5</text>
<text x="1638" y="499" textLength="28" lengthAdjust="spacingAndGlyphs">3560.0</text>
<text x="1638" y="532" textLength="28" lengthAdjust="spacingAndGlyphs">3534.0</text>
<text x="1638" y="565" textLength="28" lengthAdjust="spacingAndGlyphs">3508.0</text>
<text x="1638" y="598" textLength="28" lengthAdjust="spacingAndGlyphs">3482.0</text>
<rect x="1634" y="180" width="36" height="11" fill="#000" shape-rendering="crispEdges"/>
<text class="w" x="1638" y="189" textLength="28" lengthAdjust="spacingAndGlyphs">3805.6</text>
<rect x="1634" y="214" width="36" height="11" fill="#000" shape-rendering="crispEdges"/>
<text class="w" x="1638" y="223" textLength="28" lengthAdjust="spacingAndGlyphs">3779.3</text>
<rect x="1634" y="244" width="36" height="11" fill="#000" shape-rendering="crispEdges"/>
<text class="w" x="1638" y="253" textLength="28" lengthAdjust="spacingAndGlyphs">3755.1</text>
<text x="1636" y="610" textLength="23" lengthAdjust="spacingAndGlyphs">44.86</text>
<text x="1636" y="665" textLength="18" lengthAdjust="spacingAndGlyphs">0.00</text>
<text x="1636" y="737" textLength="25" lengthAdjust="spacingAndGlyphs">-58.97</text>
<path d="M8 11h7l-3.5 4z" fill="#000" shape-rendering="crispEdges"/>
<text y="16"><tspan x="20.3" textLength="63.8" lengthAdjust="spacingAndGlyphs">CHINA300-,H1</tspan> <tspan x="91.2" textLength="27.3" lengthAdjust="spacingAndGlyphs">3785.1</tspan> <tspan x="122.1" textLength="27.5" lengthAdjust="spacingAndGlyphs">3787.2</tspan> <tspan x="153.3" textLength="27.3" lengthAdjust="spacingAndGlyphs">3774.2</tspan> <tspan x="184.4" textLength="27.3" lengthAdjust="spacingAndGlyphs">3779.3</tspan></text>
<text x="9.5" y="612" textLength="113.5" lengthAdjust="spacingAndGlyphs">MACD(12,26,9) -5.17 -3.65</text>
<text x="4" y="753" textLength="51.9" lengthAdjust="spacingAndGlyphs">21 Sep 2022</text>
<text x="68" y="753" textLength="55" lengthAdjust="spacingAndGlyphs">23 Sep 05:00</text>
<text x="132" y="753" textLength="55" lengthAdjust="spacingAndGlyphs">27 Sep 05:00</text>
<text x="196" y="753" textLength="55" lengthAdjust="spacingAndGlyphs">29 Sep 05:00</text>
<text x="260" y="753" textLength="53.6" lengthAdjust="spacingAndGlyphs">10 Oct 05:00</text>
<text x="324" y="753" textLength="53.6" lengthAdjust="spacingAndGlyphs">12 Oct 05:00</text>
<text x="388" y="753" textLength="53.6" lengthAdjust="spacingAndGlyphs">14 Oct 05:00</text>
<text x="452" y="753" textLength="53.6" lengthAdjust="spacingAndGlyphs">18 Oct 05:00</text>
<text x="516" y="753" textLength="53.6" lengthAdjust="spacingAndGlyphs">20 Oct 05:00</text>
<text x="580" y="753" textLength="53.6" lengthAdjust="spacingAndGlyphs">24 Oct 05:00</text>
<text x="644" y="753" textLength="53.6" lengthAdjust="spacingAndGlyphs">26 Oct 05:00</text>
<text x="708" y="753" textLength="53.6" lengthAdjust="spacingAndGlyphs">28 Oct 05:00</text>
<text x="772" y="753" textLength="51.5" lengthAdjust="spacingAndGlyphs">1 Nov 05:00</text>
<text x="836" y="753" textLength="51.5" lengthAdjust="spacingAndGlyphs">3 Nov 05:00</text>
<text x="900" y="753" textLength="51.5" lengthAdjust="spacingAndGlyphs">7 Nov 05:00</text>
<text x="964" y="753" textLength="51.5" lengthAdjust="spacingAndGlyphs">9 Nov 05:00</text>
<text x="1028" y="753" textLength="56.4" lengthAdjust="spacingAndGlyphs">11 Nov 05:00</text>
<text x="1092" y="753" textLength="56.4" lengthAdjust="spacingAndGlyphs">15 Nov 05:00</text>
<text x="1156" y="753" textLength="56.4" lengthAdjust="spacingAndGlyphs">17 Nov 05:00</text>
<text x="1220" y="753" textLength="56.4" lengthAdjust="spacingAndGlyphs">21 Nov 05:00</text>
<text x="1284" y="753" textLength="56.4" lengthAdjust="spacingAndGlyphs">23 Nov 05:00</text>
</g>
</svg></body></html>
